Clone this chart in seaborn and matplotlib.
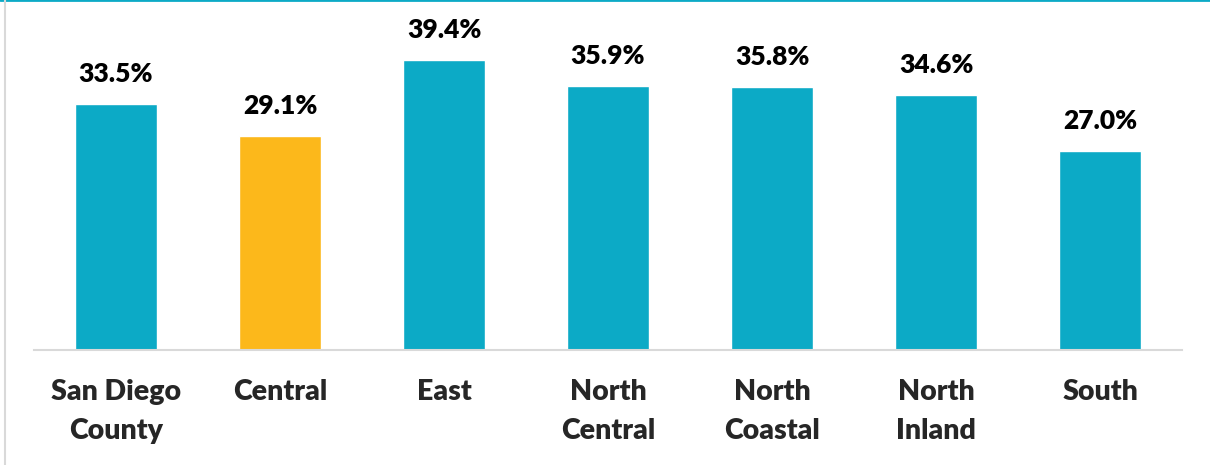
import matplotlib
matplotlib.use("Agg")
import matplotlib.pyplot as plt
import seaborn as sns
import pandas as pd
from matplotlib.lines import Line2D

regions = ["San Diego\nCounty", "Central", "East", "North\nCentral",
           "North\nCoastal", "North\nInland", "South"]
values = [33.5, 29.1, 39.4, 35.9, 35.8, 34.6, 27.0]
highlight = "Central"

TEAL = "#0CAAC6"
GOLD = "#FCB81B"

sns.set_theme(style="white")
plt.rcParams["font.family"] = ["Lato", "DejaVu Sans"]

df = pd.DataFrame({"region": regions, "value": values})
palette = {r: (GOLD if r == highlight else TEAL) for r in regions}

fig = plt.figure(figsize=(12.1, 4.65), dpi=100)
ax = fig.add_axes([34 / 1210, 115 / 465, 1148 / 1210, 331 / 465])

sns.barplot(data=df, x="region", y="value", hue="region", palette=palette,
            width=0.5, legend=False, ax=ax, saturation=1)

ax.set_ylim(0, 45)
ax.set_xlim(-0.5, len(regions) - 0.5)
ax.set_xlabel("")
ax.set_ylabel("")
ax.set_yticks([])
for side in ["top", "right", "left"]:
    ax.spines[side].set_visible(False)
ax.spines["bottom"].set_color("#D9D9D9")
ax.spines["bottom"].set_linewidth(1.5)
ax.tick_params(axis="x", length=0, pad=21, labelsize=20.5)
for lbl in ax.get_xticklabels():
    lbl.set_fontweight("heavy")
    lbl.set_linespacing(1.6)

for i, v in enumerate(values):
    ax.annotate(f"{v:.1f}%", (i, v), xytext=(0, 13), textcoords="offset points",
                ha="center", va="bottom", fontsize=19, fontweight="heavy",
                color="black")

# frame decorations
fig.add_artist(Line2D([0, 1], [0.999, 0.999], transform=fig.transFigure,
                      color=TEAL, linewidth=2))
fig.add_artist(Line2D([5 / 1210, 5 / 1210], [0, 1], transform=fig.transFigure,
                      color="#D9D9D9", linewidth=1.5))

fig.savefig("out.png", dpi=100)
